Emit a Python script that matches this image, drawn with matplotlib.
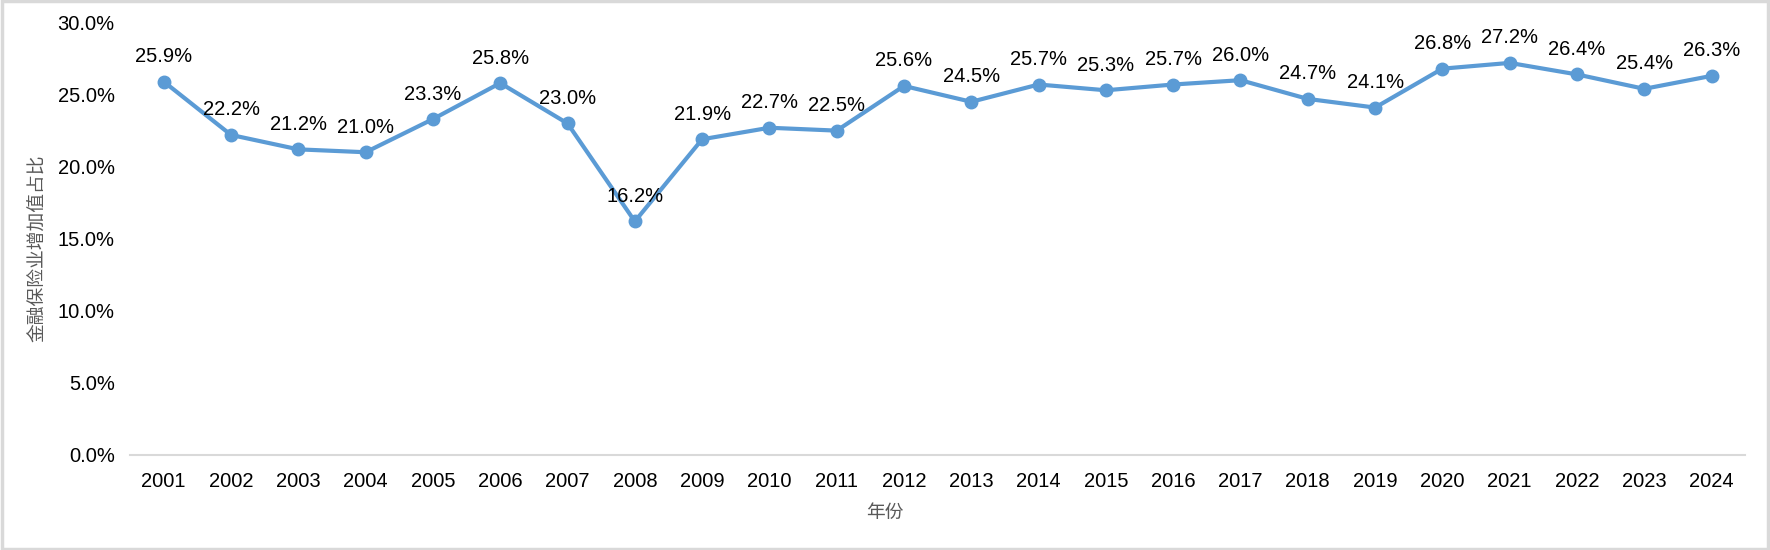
import matplotlib.pyplot as plt
from matplotlib.patches import Rectangle
from matplotlib.ticker import FuncFormatter

years = [str(y) for y in range(2001, 2025)]
share = [25.9, 22.2, 21.2, 21.0, 23.3, 25.8, 23.0, 16.2, 21.9, 22.7, 22.5, 25.6,
         24.5, 25.7, 25.3, 25.7, 26.0, 24.7, 24.1, 26.8, 27.2, 26.4, 25.4, 26.3]
yticks = [0, 5, 10, 15, 20, 25, 30]

plt.rcParams['font.family'] = ['Liberation Sans', 'Noto Sans CJK SC', 'DejaVu Sans']

fig = plt.figure(figsize=(17.7, 5.5), dpi=100)
ax = fig.add_axes([0.0735, 0.173, 0.9125, 0.786])

x = list(range(len(years)))
ax.plot(x, share, color='#5B9BD5', lw=3, marker='o', ms=9, zorder=3)

for i, v in enumerate(share):
    ax.annotate(f"{v:.1f}%", (i, v), xytext=(0, 18), textcoords='offset points',
                ha='center', va='center', fontsize=14.5, color='black')

ax.set_xlim(-0.5, len(years) - 0.5)
ax.set_ylim(0, 30)
ax.set_yticks(yticks)
ax.yaxis.set_major_formatter(FuncFormatter(lambda v, p: f"{v:.1f}%"))
ax.set_xticks(x)
ax.set_xticklabels(years)
ax.tick_params(axis='both', length=0, labelsize=14.5, colors='black')
ax.tick_params(axis='y', pad=11)
ax.tick_params(axis='x', pad=12)

for s in ['top', 'right', 'left']:
    ax.spines[s].set_visible(False)
ax.spines['bottom'].set_color('#D9D9D9')
ax.spines['bottom'].set_linewidth(1.5)

fig.text(0.5, 0.069, "年份", ha='center', va='center', fontsize=13.5,
         color='#595959', family=['Noto Sans CJK SC', 'DejaVu Sans'])
fig.text(0.021, 0.549, "金融保险业增加值占比", ha='center', va='center', rotation=90,
         fontsize=13.5, color='#595959', fontweight='light',
         family=['Noto Sans CJK SC', 'DejaVu Sans'])

fig.patches.append(Rectangle((0.001, 0.002), 0.998, 0.996, transform=fig.transFigure,
                             fill=False, edgecolor='#D9D9D9', lw=2.5))

fig.savefig('out.png', dpi=100)
